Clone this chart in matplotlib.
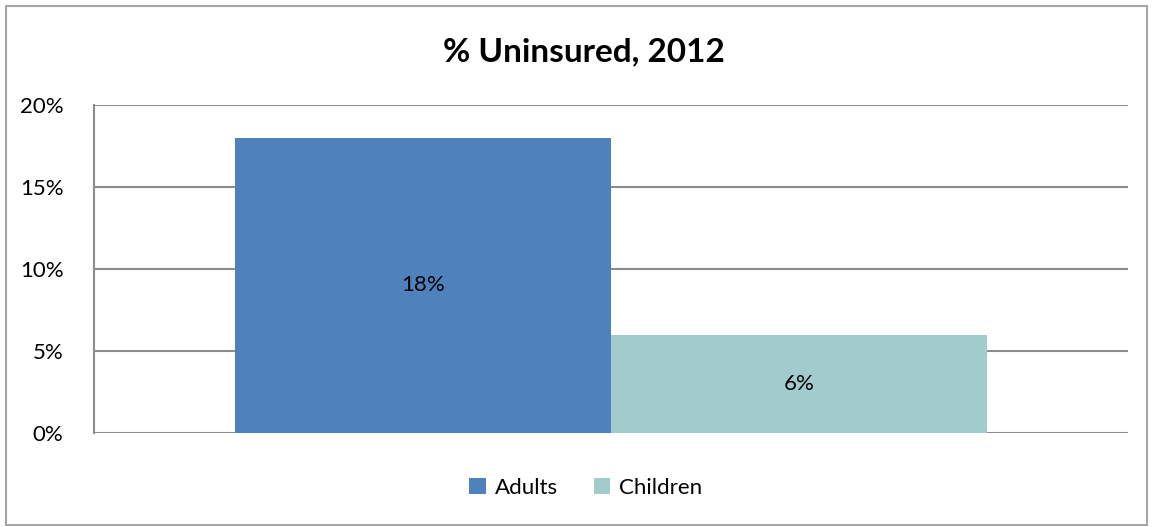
import matplotlib.pyplot as plt
from matplotlib.patches import Rectangle

series = ['Adults', 'Children']
values = [18, 6]
colors = ['#4F81BD', '#A2CBCB']
yticks = [0, 5, 10, 15, 20]

plt.rcParams['font.family'] = ['Lato', 'DejaVu Sans']

fig = plt.figure(figsize=(11.53, 5.27), dpi=100)
ax = fig.add_axes([0.0815, 0.1784, 0.8968, 0.6224])

# one category, two series side by side (gap width 75%)
bar_w = 1 / (len(series) + 0.75)
offsets = [(i - (len(series) - 1) / 2) * bar_w for i in range(len(series))]
for name, v, c, off in zip(series, values, colors, offsets):
    ax.bar(off, v, width=bar_w, color=c, label=name, zorder=2)
    ax.text(off, v / 2, f'{v}%', ha='center', va='center', fontsize=16, color='black')

ax.set_xlim(-0.5, 0.5)
ax.set_ylim(0, 20)
ax.set_yticks(yticks)
ax.set_yticklabels([f'{t}%' for t in yticks], fontsize=16)
ax.set_xticks([])
ax.tick_params(axis='y', length=0, pad=22)
ax.grid(axis='y', color='#8C8C8C', linewidth=1.5, zorder=1)
for s in ['top', 'right', 'bottom']:
    ax.spines[s].set_visible(False)
ax.spines['left'].set_color('#8C8C8C')
ax.spines['left'].set_linewidth(1.5)

fig.text(0.506, 0.902, '% Uninsured, 2012', ha='center', va='center',
         fontsize=24, fontweight='bold')

ax.legend(loc='center', bbox_to_anchor=(0.508, 0.074), bbox_transform=fig.transFigure,
          ncol=2, frameon=False, fontsize=16, handlelength=0.75, handleheight=0.75,
          handletextpad=0.4, columnspacing=1.6)

fig.patches.append(Rectangle((0.005, 0.004), 0.99, 0.985, transform=fig.transFigure,
                             fill=False, edgecolor='#A6A6A6', linewidth=1.5))

fig.savefig('out.png', dpi=100)
